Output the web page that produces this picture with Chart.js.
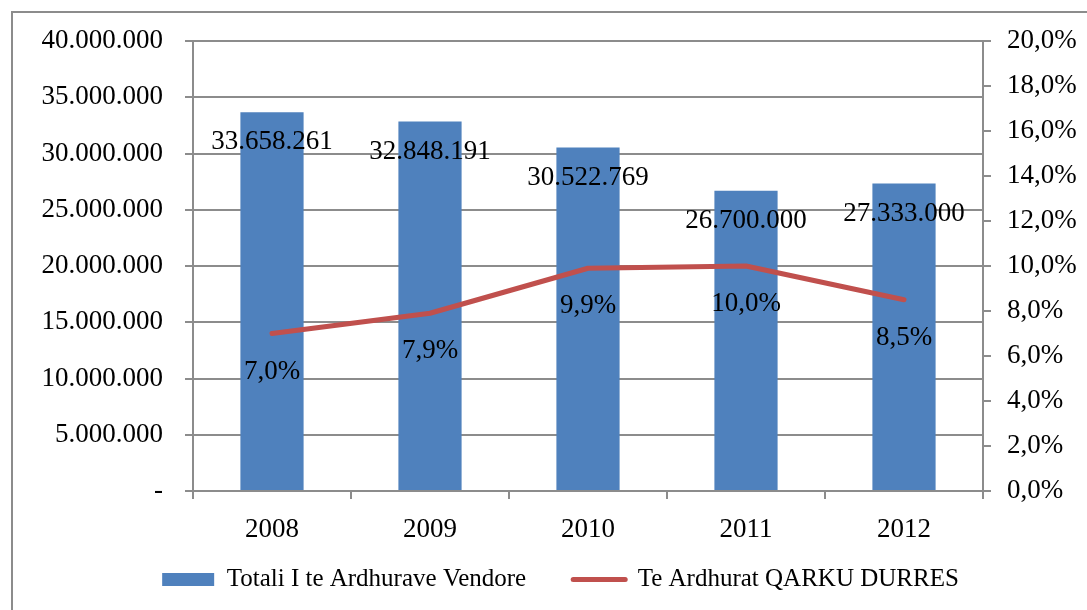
<!DOCTYPE html>
<html>
<head>
<meta charset="utf-8">
<script src="https://cdn.jsdelivr.net/npm/chart.js@4"></script>
<style>
  html,body{margin:0;padding:0;background:#fff;}
  #wrap{width:1087px;height:610px;position:relative;}
</style>
</head>
<body>
<div id="wrap"><canvas id="c" width="1087" height="610"></canvas></div>
<script>
// data
const years = ['2008', '2009', '2010', '2011', '2012'];
const totalRevenue = [33658261, 32848191, 30522769, 26700000, 27333000];
const durresShare = [7.0, 7.9, 9.9, 10.0, 8.5];
const seriesNames = ['Totali I te Ardhurave Vendore', 'Te Ardhurat QARKU DURRES'];

const BLUE = '#4F81BD', RED = '#C0504D', GRID = '#8c8c8c';
const FONT = 'Liberation Serif, Times New Roman, serif';

function dots(n){ return String(Math.round(n)).replace(/\B(?=(\d{3})+(?!\d))/g, '.'); }
function pct(v){ return v.toFixed(1).replace('.', ',') + '%'; }

// frame round the whole chart (cut off at right and bottom like the original)
const frame = {
  id:'frame',
  beforeDraw(chart){
    const c = chart.ctx;
    c.save();
    c.strokeStyle = '#8c8c8c'; c.lineWidth = 2;
    c.strokeRect(12, 12, 1200, 800);
    c.restore();
  }
};

// value labels
const valueLabels = {
  id:'valueLabels',
  afterDatasetsDraw(chart){
    const c = chart.ctx;
    c.save();
    c.font = '27px ' + FONT;
    c.fillStyle = '#000';
    c.textAlign = 'center';
    c.textBaseline = 'middle';
    chart.getDatasetMeta(0).data.forEach((el, i)=>{
      c.fillText(dots(totalRevenue[i]), el.x, el.y + 30);
    });
    chart.getDatasetMeta(1).data.forEach((el, i)=>{
      c.fillText(pct(durresShare[i]), el.x, el.y + 38);
    });
    c.restore();
  }
};

new Chart(document.getElementById('c'), {
  data:{
    labels: years,
    datasets:[
      { type:'bar', label:seriesNames[0], data:totalRevenue, yAxisID:'y',
        backgroundColor:BLUE, borderWidth:0, order:1,
        categoryPercentage:1, barPercentage:0.4 },
      { type:'line', label:seriesNames[1], data:durresShare, yAxisID:'y2',
        borderColor:RED, borderWidth:5, borderCapStyle:'round', borderJoinStyle:'round',
        pointRadius:0, pointHoverRadius:0, tension:0, order:0 }
    ]
  },
  options:{
    responsive:false,
    animation:false,
    events:[],
    layout:{ padding:{ left:34, right:0, top:41, bottom:8 } },
    plugins:{
      tooltip:{ enabled:false },
      legend:{
        position:'bottom',
        labels:{
          usePointStyle:true,
          pointStyleWidth:52,
          boxHeight:13,
          padding:47,
          color:'#000',
          font:{ family:FONT, size:25 },
          generateLabels(chart){
            const items = Chart.defaults.plugins.legend.labels.generateLabels(chart);
            items.sort((a,b)=>a.datasetIndex - b.datasetIndex);
            items.forEach(it=>{
              if(it.datasetIndex === 0){
                it.pointStyle = 'rect'; it.fillStyle = BLUE; it.lineWidth = 0;
              } else {
                it.pointStyle = 'line'; it.strokeStyle = RED; it.lineWidth = 5; it.lineCap = 'round';
              }
            });
            return items;
          }
        }
      }
    },
    scales:{
      x:{
        offset:true,
        grid:{ drawOnChartArea:false, drawTicks:true, tickLength:8, color:GRID, lineWidth:2 },
        border:{ color:GRID, width:2 },
        ticks:{ color:'#000', font:{ family:FONT, size:27 }, padding:15 },
        afterFit(s){
          s.height = 29;
          // legend sits close under the axis, so do not clip the year labels
          s._computeLabelArea = () => null;
        }
      },
      y:{
        position:'left',
        min:0, max:40000000,
        ticks:{ stepSize:5000000, color:'#000', font:{ family:FONT, size:27 }, padding:22,
          callback:(v)=> v === 0 ? '-' : dots(v) },
        grid:{ color:GRID, lineWidth:2, tickLength:8 },
        border:{ color:GRID, width:2 },
        afterFit(s){ s.width = 159; }
      },
      y2:{
        position:'right',
        min:0, max:20,
        ticks:{ stepSize:2, color:'#000', font:{ family:FONT, size:27 }, padding:16,
          callback:(v)=> pct(v) },
        grid:{ drawOnChartArea:false, color:GRID, lineWidth:2, tickLength:8 },
        border:{ color:GRID, width:2 },
        afterFit(s){ s.width = 104; }
      }
    }
  },
  plugins:[frame, valueLabels]
});
</script>
</body>
</html>
